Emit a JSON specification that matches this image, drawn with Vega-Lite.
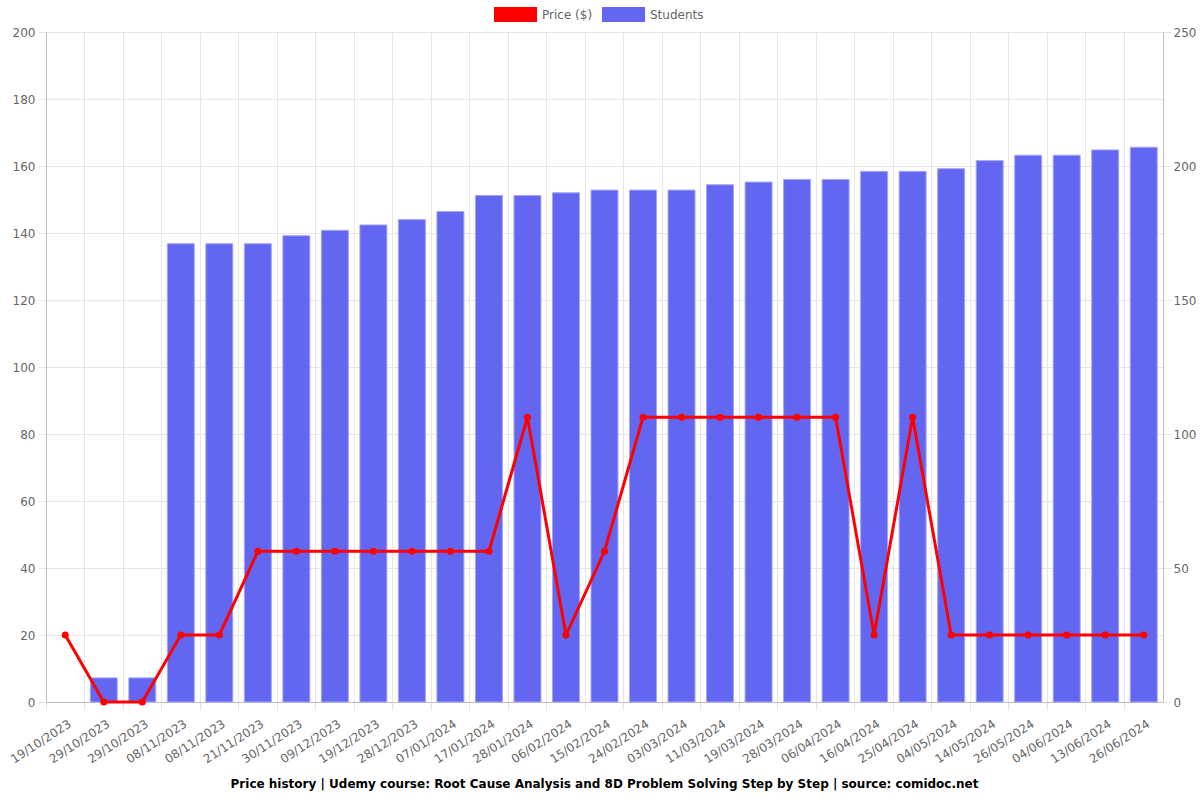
{
  "$schema": "https://vega.github.io/schema/vega-lite/v6.json",
  "width": 1117,
  "height": 670,
  "autosize": {"type": "none"},
  "padding": {"left": 46, "top": 32, "right": 37, "bottom": 98},
  "background": "white",
  "config": {
    "font": "DejaVu Sans",
    "view": {"stroke": null},
    "axis": {
      "title": null,
      "labelFont": "DejaVu Sans",
      "labelFontSize": 12,
      "labelColor": "#666666",
      "gridColor": "#e6e6e6",
      "tickColor": "#e6e6e6",
      "domainColor": "#bfbfbf",
      "tickSize": 8
    }
  },
  "title": {
    "text": "Price history | Udemy course: Root Cause Analysis and 8D Problem Solving Step by Step | source: comidoc.net",
    "orient": "bottom",
    "anchor": "middle",
    "fontSize": 12,
    "fontWeight": "bold",
    "color": "#000000",
    "font": "DejaVu Sans",
    "offset": 14
  },
  "data": {
    "values": [
      {"key": "19/10/2023", "price": 19.99, "students": 0},
      {"key": "29/10/2023", "price": 0, "students": 9},
      {"key": "29/10/2023#2", "price": 0, "students": 9},
      {"key": "08/11/2023", "price": 19.99, "students": 171},
      {"key": "08/11/2023#2", "price": 19.99, "students": 171},
      {"key": "21/11/2023", "price": 44.99, "students": 171},
      {"key": "30/11/2023", "price": 44.99, "students": 174},
      {"key": "09/12/2023", "price": 44.99, "students": 176},
      {"key": "19/12/2023", "price": 44.99, "students": 178},
      {"key": "28/12/2023", "price": 44.99, "students": 180},
      {"key": "07/01/2024", "price": 44.99, "students": 183},
      {"key": "17/01/2024", "price": 44.99, "students": 189},
      {"key": "28/01/2024", "price": 84.99, "students": 189},
      {"key": "06/02/2024", "price": 19.99, "students": 190},
      {"key": "15/02/2024", "price": 44.99, "students": 191},
      {"key": "24/02/2024", "price": 84.99, "students": 191},
      {"key": "03/03/2024", "price": 84.99, "students": 191},
      {"key": "11/03/2024", "price": 84.99, "students": 193},
      {"key": "19/03/2024", "price": 84.99, "students": 194},
      {"key": "28/03/2024", "price": 84.99, "students": 195},
      {"key": "06/04/2024", "price": 84.99, "students": 195},
      {"key": "16/04/2024", "price": 19.99, "students": 198},
      {"key": "25/04/2024", "price": 84.99, "students": 198},
      {"key": "04/05/2024", "price": 19.99, "students": 199},
      {"key": "14/05/2024", "price": 19.99, "students": 202},
      {"key": "26/05/2024", "price": 19.99, "students": 204},
      {"key": "04/06/2024", "price": 19.99, "students": 204},
      {"key": "13/06/2024", "price": 19.99, "students": 206},
      {"key": "26/06/2024", "price": 19.99, "students": 207}
    ]
  },
  "layer": [
    {
      "mark": {"type": "bar", "width": {"band": 0.7}, "stroke": "#a3a5f7"},
      "encoding": {
        "x": {
          "field": "key",
          "type": "nominal",
          "sort": null,
          "scale": {"paddingInner": 0, "paddingOuter": 0},
          "axis": {
            "orient": "bottom",
            "labels": false,
            "grid": true,
            "ticks": true,
            "domain": true,
            "bandPosition": 0
          }
        },
        "y": {
          "field": "students",
          "type": "quantitative",
          "scale": {"domain": [0, 250], "nice": false},
          "axis": {
            "orient": "right",
            "values": [0, 50, 100, 150, 200, 250],
            "grid": true,
            "labelPadding": 2
          }
        },
        "strokeWidth": {"condition": {"test": "datum.students > 0", "value": 1}, "value": 0},
        "color": {
          "datum": "Students",
          "type": "nominal",
          "scale": {"domain": ["Price ($)", "Students"], "range": ["#ff0000", "#6366f1"]},
          "legend": {
            "orient": "none",
            "legendX": 462,
            "legendY": -25,
            "direction": "horizontal",
            "title": null,
            "labelFont": "DejaVu Sans",
            "labelFontSize": 12,
            "labelColor": "#666666",
            "symbolType": "M-2.87,-1H2.87V1H-2.87Z",
            "symbolSize": 225,
            "symbolStrokeWidth": 0,
            "symbolOpacity": 1,
            "labelOffset": 19,
            "columnPadding": 8
          }
        }
      }
    },
    {
      "mark": {
        "type": "line",
        "strokeWidth": 3,
        "point": {"filled": true, "size": 50}
      },
      "encoding": {
        "x": {
          "field": "key",
          "type": "nominal",
          "sort": null,
          "axis": {
            "orient": "bottom",
            "labelExpr": "split(datum.label, '#')[0]",
            "labelAngle": -33,
            "labelAlign": "right",
            "labelBaseline": "top",
            "labelOffset": 2,
            "labelPadding": 16,
            "ticks": false,
            "grid": false,
            "domain": false
          }
        },
        "y": {
          "field": "price",
          "type": "quantitative",
          "scale": {"domain": [0, 200], "nice": false},
          "axis": {
            "orient": "left",
            "values": [0, 20, 40, 60, 80, 100, 120, 140, 160, 180, 200],
            "grid": true,
            "labelPadding": 3
          }
        },
        "color": {"datum": "Price ($)", "type": "nominal"}
      }
    }
  ],
  "resolve": {
    "scale": {"y": "independent"},
    "axis": {"x": "independent", "y": "independent"}
  }
}
